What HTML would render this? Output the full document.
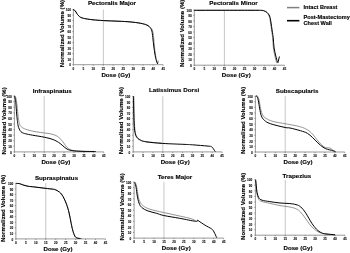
<!DOCTYPE html>
<html><head><meta charset="utf-8"><title>DVH</title>
<style>html,body{margin:0;padding:0;background:#fff}svg{display:block;filter:grayscale(1) blur(0.3px)}</style></head>
<body>
<svg width="350" height="253" viewBox="0 0 350 253" font-family="'Liberation Sans', sans-serif" font-weight="bold" stroke="#000" stroke-width="0.14" stroke-linejoin="round">
<rect width="350" height="253" fill="#fff" stroke="none"/>
<line x1="103.33" y1="9.60" x2="103.33" y2="64.70" stroke="#808080" stroke-width="0.45"/>
<path d="M73.40,9.60 V64.70 H163.18" fill="none" stroke="#444" stroke-width="0.55"/>
<path d="M73.40,64.70 v1.1 M83.38,64.70 v1.1 M93.35,64.70 v1.1 M103.33,64.70 v1.1 M113.30,64.70 v1.1 M123.28,64.70 v1.1 M133.25,64.70 v1.1 M143.23,64.70 v1.1 M153.20,64.70 v1.1 M163.18,64.70 v1.1 M73.40,64.70 h-1.1 M73.40,59.19 h-1.1 M73.40,53.68 h-1.1 M73.40,48.17 h-1.1 M73.40,42.66 h-1.1 M73.40,37.15 h-1.1 M73.40,31.64 h-1.1 M73.40,26.13 h-1.1 M73.40,20.62 h-1.1 M73.40,15.11 h-1.1 M73.40,9.60 h-1.1" fill="none" stroke="#444" stroke-width="0.45"/>
<g font-size="3.15" fill="#111" stroke-width="0.08">
<text x="73.40" y="69.85" text-anchor="middle">0</text>
<text x="83.38" y="69.85" text-anchor="middle">5</text>
<text x="93.35" y="69.85" text-anchor="middle">10</text>
<text x="103.33" y="69.85" text-anchor="middle">15</text>
<text x="113.30" y="69.85" text-anchor="middle">20</text>
<text x="123.28" y="69.85" text-anchor="middle">25</text>
<text x="133.25" y="69.85" text-anchor="middle">30</text>
<text x="143.23" y="69.85" text-anchor="middle">35</text>
<text x="153.20" y="69.85" text-anchor="middle">40</text>
<text x="163.18" y="69.85" text-anchor="middle">45</text>
<text x="70.95" y="66.40" text-anchor="end">0</text>
<text x="70.95" y="60.89" text-anchor="end">10</text>
<text x="70.95" y="55.38" text-anchor="end">20</text>
<text x="70.95" y="49.87" text-anchor="end">30</text>
<text x="70.95" y="44.36" text-anchor="end">40</text>
<text x="70.95" y="38.85" text-anchor="end">50</text>
<text x="70.95" y="33.34" text-anchor="end">60</text>
<text x="70.95" y="27.83" text-anchor="end">70</text>
<text x="70.95" y="22.32" text-anchor="end">80</text>
<text x="70.95" y="16.81" text-anchor="end">90</text>
<text x="70.95" y="11.30" text-anchor="end">100</text>
</g>
<text x="112.00" y="5.20" font-size="6.22" text-anchor="middle" fill="#000">Pectoralis Major</text>
<text x="115.90" y="77.10" font-size="6.15" text-anchor="middle" fill="#000">Dose (Gy)</text>
<text transform="translate(64.20,33.55) rotate(-90)" font-size="6.1" text-anchor="middle" fill="#000">Normalized Volume (%)</text>
<path d="M73.10,9.50 C73.35,9.63 73.98,9.75 74.50,10.20 C75.02,10.65 75.46,11.23 76.00,12.00 C76.54,12.77 76.85,13.65 77.50,14.50 C78.15,15.35 78.79,16.09 79.60,16.70 C80.41,17.31 80.85,17.52 82.00,17.90 C83.15,18.28 84.02,18.46 86.00,18.80 C87.98,19.14 89.85,19.48 93.00,19.80 C96.15,20.12 99.00,20.35 103.50,20.60 C108.00,20.85 113.23,20.97 118.00,21.20 C122.77,21.43 125.97,21.56 130.00,21.90 C134.03,22.24 137.29,22.54 140.40,23.10 C143.51,23.66 145.46,24.19 147.30,25.00 C149.14,25.81 149.63,26.50 150.60,27.60 C151.57,28.70 152.14,29.30 152.70,31.10 C153.26,32.90 153.36,34.56 153.70,37.60 C154.04,40.64 154.20,44.47 154.60,48.00 C155.00,51.53 155.50,54.86 155.90,57.20 C156.30,59.54 156.48,59.85 156.80,61.00 C157.12,62.15 157.41,63.69 157.70,63.60 C157.99,63.51 158.27,61.06 158.40,60.50" fill="none" stroke="#707070" stroke-width="0.75" stroke-linejoin="round"/>
<path d="M73.10,9.50 C73.35,9.63 73.98,9.75 74.50,10.20 C75.02,10.65 75.46,11.23 76.00,12.00 C76.54,12.77 76.85,13.65 77.50,14.50 C78.15,15.35 78.79,16.09 79.60,16.70 C80.41,17.31 80.85,17.52 82.00,17.90 C83.15,18.28 84.02,18.46 86.00,18.80 C87.98,19.14 89.85,19.48 93.00,19.80 C96.15,20.12 99.00,20.35 103.50,20.60 C108.00,20.85 113.23,20.97 118.00,21.20 C122.77,21.43 125.97,21.52 130.00,21.90 C134.03,22.28 137.34,22.71 140.40,23.30 C143.46,23.89 145.24,24.39 147.00,25.20 C148.76,26.01 149.32,26.74 150.20,27.80 C151.08,28.86 151.43,29.34 151.90,31.10 C152.37,32.86 152.42,34.56 152.80,37.60 C153.18,40.64 153.51,44.47 154.00,48.00 C154.49,51.53 155.05,54.86 155.50,57.20 C155.95,59.54 156.12,59.78 156.50,61.00 C156.88,62.22 157.40,63.46 157.60,64.00" fill="none" stroke="#000" stroke-width="1.0" stroke-linejoin="round"/>
<line x1="224.38" y1="9.90" x2="224.38" y2="65.20" stroke="#808080" stroke-width="0.45"/>
<path d="M194.30,9.90 V65.20 H284.52" fill="none" stroke="#444" stroke-width="0.55"/>
<path d="M194.30,65.20 v1.1 M204.33,65.20 v1.1 M214.35,65.20 v1.1 M224.38,65.20 v1.1 M234.40,65.20 v1.1 M244.43,65.20 v1.1 M254.45,65.20 v1.1 M264.48,65.20 v1.1 M274.50,65.20 v1.1 M284.52,65.20 v1.1 M194.30,65.20 h-1.1 M194.30,59.67 h-1.1 M194.30,54.14 h-1.1 M194.30,48.61 h-1.1 M194.30,43.08 h-1.1 M194.30,37.55 h-1.1 M194.30,32.02 h-1.1 M194.30,26.49 h-1.1 M194.30,20.96 h-1.1 M194.30,15.43 h-1.1 M194.30,9.90 h-1.1" fill="none" stroke="#444" stroke-width="0.45"/>
<g font-size="3.15" fill="#111" stroke-width="0.08">
<text x="194.30" y="70.35" text-anchor="middle">0</text>
<text x="204.33" y="70.35" text-anchor="middle">5</text>
<text x="214.35" y="70.35" text-anchor="middle">10</text>
<text x="224.38" y="70.35" text-anchor="middle">15</text>
<text x="234.40" y="70.35" text-anchor="middle">20</text>
<text x="244.43" y="70.35" text-anchor="middle">25</text>
<text x="254.45" y="70.35" text-anchor="middle">30</text>
<text x="264.48" y="70.35" text-anchor="middle">35</text>
<text x="274.50" y="70.35" text-anchor="middle">40</text>
<text x="284.52" y="70.35" text-anchor="middle">45</text>
<text x="191.75" y="66.90" text-anchor="end">0</text>
<text x="191.75" y="61.37" text-anchor="end">10</text>
<text x="191.75" y="55.84" text-anchor="end">20</text>
<text x="191.75" y="50.31" text-anchor="end">30</text>
<text x="191.75" y="44.78" text-anchor="end">40</text>
<text x="191.75" y="39.25" text-anchor="end">50</text>
<text x="191.75" y="33.72" text-anchor="end">60</text>
<text x="191.75" y="28.19" text-anchor="end">70</text>
<text x="191.75" y="22.66" text-anchor="end">80</text>
<text x="191.75" y="17.13" text-anchor="end">90</text>
<text x="191.75" y="11.60" text-anchor="end">100</text>
</g>
<text x="233.50" y="5.20" font-size="6.22" text-anchor="middle" fill="#000">Pectoralis Minor</text>
<text x="236.30" y="76.80" font-size="6.15" text-anchor="middle" fill="#000">Dose (Gy)</text>
<text transform="translate(184.30,33.25) rotate(-90)" font-size="6.1" text-anchor="middle" fill="#000">Normalized Volume (%)</text>
<path d="M194.20,10.30 C204.24,10.30 237.94,10.28 250.00,10.30 C262.06,10.32 258.68,10.27 261.20,10.40 C263.72,10.53 263.05,10.64 264.00,11.00 C264.95,11.36 265.58,11.50 266.50,12.40 C267.42,13.30 268.40,14.27 269.10,16.00 C269.80,17.73 269.93,19.30 270.40,22.00 C270.87,24.70 271.30,28.19 271.70,31.00 C272.10,33.81 272.29,34.54 272.60,37.60 C272.91,40.66 272.93,44.47 273.40,48.00 C273.87,51.53 274.61,54.46 275.20,57.20 C275.79,59.94 276.43,62.12 276.70,63.20" fill="none" stroke="#707070" stroke-width="0.75" stroke-linejoin="round"/>
<path d="M194.20,10.30 C204.24,10.30 237.85,10.28 250.00,10.30 C262.15,10.32 259.09,10.27 261.70,10.40 C264.31,10.53 263.55,10.64 264.50,11.00 C265.45,11.36 266.08,11.50 267.00,12.40 C267.92,13.30 268.90,14.27 269.60,16.00 C270.30,17.73 270.43,19.30 270.90,22.00 C271.37,24.70 271.79,28.19 272.20,31.00 C272.61,33.81 272.86,34.54 273.20,37.60 C273.54,40.66 273.58,44.47 274.10,48.00 C274.62,51.53 275.43,54.57 276.10,57.20 C276.77,59.83 277.35,62.10 277.80,62.60 C278.25,63.10 278.31,61.10 278.60,60.00 C278.89,58.90 279.26,57.13 279.40,56.50" fill="none" stroke="#000" stroke-width="1.0" stroke-linejoin="round"/>
<line x1="44.18" y1="96.00" x2="44.18" y2="151.90" stroke="#808080" stroke-width="0.45"/>
<path d="M14.40,96.00 V151.90 H103.73" fill="none" stroke="#444" stroke-width="0.55"/>
<path d="M14.40,151.90 v1.1 M24.33,151.90 v1.1 M34.25,151.90 v1.1 M44.18,151.90 v1.1 M54.10,151.90 v1.1 M64.03,151.90 v1.1 M73.95,151.90 v1.1 M83.88,151.90 v1.1 M93.80,151.90 v1.1 M103.73,151.90 v1.1 M14.40,151.90 h-1.1 M14.40,146.31 h-1.1 M14.40,140.72 h-1.1 M14.40,135.13 h-1.1 M14.40,129.54 h-1.1 M14.40,123.95 h-1.1 M14.40,118.36 h-1.1 M14.40,112.77 h-1.1 M14.40,107.18 h-1.1 M14.40,101.59 h-1.1 M14.40,96.00 h-1.1" fill="none" stroke="#444" stroke-width="0.45"/>
<g font-size="3.15" fill="#111" stroke-width="0.08">
<text x="14.40" y="157.05" text-anchor="middle">0</text>
<text x="24.33" y="157.05" text-anchor="middle">5</text>
<text x="34.25" y="157.05" text-anchor="middle">10</text>
<text x="44.18" y="157.05" text-anchor="middle">15</text>
<text x="54.10" y="157.05" text-anchor="middle">20</text>
<text x="64.03" y="157.05" text-anchor="middle">25</text>
<text x="73.95" y="157.05" text-anchor="middle">30</text>
<text x="83.88" y="157.05" text-anchor="middle">35</text>
<text x="93.80" y="157.05" text-anchor="middle">40</text>
<text x="103.73" y="157.05" text-anchor="middle">45</text>
<text x="11.75" y="153.60" text-anchor="end">0</text>
<text x="11.75" y="148.01" text-anchor="end">10</text>
<text x="11.75" y="142.42" text-anchor="end">20</text>
<text x="11.75" y="136.83" text-anchor="end">30</text>
<text x="11.75" y="131.24" text-anchor="end">40</text>
<text x="11.75" y="125.65" text-anchor="end">50</text>
<text x="11.75" y="120.06" text-anchor="end">60</text>
<text x="11.75" y="114.47" text-anchor="end">70</text>
<text x="11.75" y="108.88" text-anchor="end">80</text>
<text x="11.75" y="103.29" text-anchor="end">90</text>
<text x="11.75" y="97.70" text-anchor="end">100</text>
</g>
<text x="52.20" y="92.80" font-size="6.22" text-anchor="middle" fill="#000">Infraspinatus</text>
<text x="55.90" y="164.00" font-size="6.15" text-anchor="middle" fill="#000">Dose (Gy)</text>
<text transform="translate(6.10,120.85) rotate(-90)" font-size="6.1" text-anchor="middle" fill="#000">Normalized Volume (%)</text>
<path d="M14.20,96.00 C14.40,96.05 14.95,95.76 15.29,96.30 C15.63,96.84 15.76,97.25 16.08,99.00 C16.40,100.75 16.68,102.67 17.07,106.00 C17.46,109.33 17.90,114.62 18.25,117.50 C18.61,120.38 18.76,120.69 19.04,122.00 C19.33,123.31 19.26,123.81 19.83,124.80 C20.40,125.79 20.84,126.60 22.20,127.50 C23.56,128.40 24.92,129.03 27.40,129.80 C29.88,130.57 32.87,131.22 36.00,131.80 C39.13,132.38 41.76,132.53 44.80,133.00 C47.84,133.47 50.42,133.64 52.90,134.40 C55.38,135.16 56.80,135.87 58.60,137.20 C60.40,138.53 61.62,140.25 62.90,141.80 C64.18,143.35 64.58,144.49 65.70,145.80 C66.82,147.11 67.55,148.22 69.10,149.10 C70.65,149.98 71.56,150.29 74.30,150.70 C77.04,151.11 82.50,151.27 84.30,151.40" fill="none" stroke="#707070" stroke-width="0.75" stroke-linejoin="round"/>
<path d="M14.20,96.00 C14.29,96.09 14.50,95.96 14.70,96.50 C14.89,97.04 15.09,97.94 15.29,99.00 C15.49,100.06 15.53,99.68 15.78,102.40 C16.03,105.12 16.39,110.84 16.67,114.10 C16.96,117.36 17.15,118.63 17.36,120.50 C17.58,122.37 17.63,123.24 17.86,124.50 C18.09,125.76 18.26,126.42 18.65,127.50 C19.04,128.58 19.43,129.60 20.03,130.50 C20.63,131.40 20.98,131.91 22.00,132.50 C23.03,133.09 23.79,133.31 25.70,133.80 C27.61,134.29 29.25,134.59 32.60,135.20 C35.95,135.81 40.65,136.43 44.30,137.20 C47.95,137.97 50.33,138.56 52.90,139.50 C55.47,140.44 56.80,141.27 58.60,142.40 C60.40,143.53 61.37,144.59 62.90,145.80 C64.43,147.01 65.30,148.22 67.10,149.10 C68.90,149.98 70.33,150.30 72.90,150.70 C75.47,151.10 77.30,151.16 81.40,151.30 C85.50,151.44 93.13,151.46 95.70,151.50" fill="none" stroke="#000" stroke-width="1.0" stroke-linejoin="round"/>
<line x1="162.82" y1="96.30" x2="162.82" y2="151.90" stroke="#808080" stroke-width="0.45"/>
<path d="M133.20,96.30 V151.90 H222.07" fill="none" stroke="#444" stroke-width="0.55"/>
<path d="M133.20,151.90 v1.1 M143.07,151.90 v1.1 M152.95,151.90 v1.1 M162.82,151.90 v1.1 M172.70,151.90 v1.1 M182.57,151.90 v1.1 M192.45,151.90 v1.1 M202.32,151.90 v1.1 M212.20,151.90 v1.1 M222.07,151.90 v1.1 M133.20,151.90 h-1.1 M133.20,146.34 h-1.1 M133.20,140.78 h-1.1 M133.20,135.22 h-1.1 M133.20,129.66 h-1.1 M133.20,124.10 h-1.1 M133.20,118.54 h-1.1 M133.20,112.98 h-1.1 M133.20,107.42 h-1.1 M133.20,101.86 h-1.1 M133.20,96.30 h-1.1" fill="none" stroke="#444" stroke-width="0.45"/>
<g font-size="3.15" fill="#111" stroke-width="0.08">
<text x="133.20" y="157.05" text-anchor="middle">0</text>
<text x="143.07" y="157.05" text-anchor="middle">5</text>
<text x="152.95" y="157.05" text-anchor="middle">10</text>
<text x="162.82" y="157.05" text-anchor="middle">15</text>
<text x="172.70" y="157.05" text-anchor="middle">20</text>
<text x="182.57" y="157.05" text-anchor="middle">25</text>
<text x="192.45" y="157.05" text-anchor="middle">30</text>
<text x="202.32" y="157.05" text-anchor="middle">35</text>
<text x="212.20" y="157.05" text-anchor="middle">40</text>
<text x="222.07" y="157.05" text-anchor="middle">45</text>
<text x="130.25" y="153.60" text-anchor="end">0</text>
<text x="130.25" y="148.04" text-anchor="end">10</text>
<text x="130.25" y="142.48" text-anchor="end">20</text>
<text x="130.25" y="136.92" text-anchor="end">30</text>
<text x="130.25" y="131.36" text-anchor="end">40</text>
<text x="130.25" y="125.80" text-anchor="end">50</text>
<text x="130.25" y="120.24" text-anchor="end">60</text>
<text x="130.25" y="114.68" text-anchor="end">70</text>
<text x="130.25" y="109.12" text-anchor="end">80</text>
<text x="130.25" y="103.56" text-anchor="end">90</text>
<text x="130.25" y="98.00" text-anchor="end">100</text>
</g>
<text x="174.10" y="92.40" font-size="6.22" text-anchor="middle" fill="#000">Latissimus Dorsi</text>
<text x="175.20" y="164.00" font-size="6.15" text-anchor="middle" fill="#000">Dose (Gy)</text>
<text transform="translate(122.70,120.70) rotate(-90)" font-size="6.1" text-anchor="middle" fill="#000">Normalized Volume (%)</text>
<path d="M133.89,96.30 C133.92,98.77 133.97,105.03 134.07,110.00 C134.18,114.97 134.23,119.90 134.45,123.90 C134.67,127.90 134.86,129.90 135.29,132.20 C135.73,134.50 136.06,135.37 136.89,136.70 C137.71,138.03 138.27,138.72 139.89,139.60 C141.51,140.48 141.85,140.93 145.90,141.60 C149.95,142.27 159.43,142.99 162.40,143.30" fill="none" stroke="#707070" stroke-width="0.75" stroke-linejoin="round"/>
<path d="M133.51,96.30 C133.55,98.77 133.58,105.03 133.70,110.00 C133.82,114.97 133.93,119.83 134.17,123.90 C134.41,127.97 134.57,130.24 135.01,132.60 C135.45,134.96 135.73,135.69 136.61,137.00 C137.48,138.31 138.21,139.04 139.89,139.90 C141.56,140.76 141.85,141.17 145.90,141.80 C149.95,142.43 155.36,142.93 162.40,143.40 C169.44,143.87 179.60,144.15 185.00,144.40 C190.40,144.65 188.26,144.49 192.40,144.80 C196.54,145.11 204.56,145.76 208.00,146.10 C211.44,146.44 210.55,146.23 211.50,146.70 C212.45,147.17 212.62,147.80 213.30,148.70 C213.98,149.60 214.94,151.16 215.30,151.70" fill="none" stroke="#000" stroke-width="1.0" stroke-linejoin="round"/>
<line x1="285.20" y1="96.20" x2="285.20" y2="152.00" stroke="#808080" stroke-width="0.45"/>
<path d="M255.40,96.20 V152.00 H344.81" fill="none" stroke="#444" stroke-width="0.55"/>
<path d="M255.40,152.00 v1.1 M265.33,152.00 v1.1 M275.27,152.00 v1.1 M285.20,152.00 v1.1 M295.14,152.00 v1.1 M305.07,152.00 v1.1 M315.01,152.00 v1.1 M324.94,152.00 v1.1 M334.88,152.00 v1.1 M344.81,152.00 v1.1 M255.40,152.00 h-1.1 M255.40,146.42 h-1.1 M255.40,140.84 h-1.1 M255.40,135.26 h-1.1 M255.40,129.68 h-1.1 M255.40,124.10 h-1.1 M255.40,118.52 h-1.1 M255.40,112.94 h-1.1 M255.40,107.36 h-1.1 M255.40,101.78 h-1.1 M255.40,96.20 h-1.1" fill="none" stroke="#444" stroke-width="0.45"/>
<g font-size="3.15" fill="#111" stroke-width="0.08">
<text x="255.40" y="157.15" text-anchor="middle">0</text>
<text x="265.33" y="157.15" text-anchor="middle">5</text>
<text x="275.27" y="157.15" text-anchor="middle">10</text>
<text x="285.20" y="157.15" text-anchor="middle">15</text>
<text x="295.14" y="157.15" text-anchor="middle">20</text>
<text x="305.07" y="157.15" text-anchor="middle">25</text>
<text x="315.01" y="157.15" text-anchor="middle">30</text>
<text x="324.94" y="157.15" text-anchor="middle">35</text>
<text x="334.88" y="157.15" text-anchor="middle">40</text>
<text x="344.81" y="157.15" text-anchor="middle">45</text>
<text x="252.65" y="153.70" text-anchor="end">0</text>
<text x="252.65" y="148.12" text-anchor="end">10</text>
<text x="252.65" y="142.54" text-anchor="end">20</text>
<text x="252.65" y="136.96" text-anchor="end">30</text>
<text x="252.65" y="131.38" text-anchor="end">40</text>
<text x="252.65" y="125.80" text-anchor="end">50</text>
<text x="252.65" y="120.22" text-anchor="end">60</text>
<text x="252.65" y="114.64" text-anchor="end">70</text>
<text x="252.65" y="109.06" text-anchor="end">80</text>
<text x="252.65" y="103.48" text-anchor="end">90</text>
<text x="252.65" y="97.90" text-anchor="end">100</text>
</g>
<text x="297.10" y="92.50" font-size="6.22" text-anchor="middle" fill="#000">Subscapularis</text>
<text x="298.10" y="163.90" font-size="6.15" text-anchor="middle" fill="#000">Dose (Gy)</text>
<text transform="translate(244.80,120.40) rotate(-90)" font-size="6.1" text-anchor="middle" fill="#000">Normalized Volume (%)</text>
<path d="M255.71,96.20 C256.08,96.24 257.17,95.68 257.77,96.40 C258.38,97.12 258.56,97.95 259.09,100.20 C259.61,102.45 260.04,106.24 260.68,108.90 C261.32,111.56 261.69,113.29 262.65,115.00 C263.61,116.71 264.14,117.25 266.00,118.40 C267.86,119.55 269.54,120.45 273.00,121.40 C276.46,122.35 282.14,123.12 285.20,123.70 C288.26,124.28 287.26,124.04 290.00,124.60 C292.74,125.16 297.27,125.86 300.40,126.80 C303.53,127.74 305.20,128.49 307.40,129.80 C309.60,131.11 310.73,132.14 312.60,134.10 C314.47,136.06 315.93,138.56 317.80,140.70 C319.67,142.84 321.43,144.74 323.00,146.00 C324.57,147.26 325.24,147.34 326.50,147.70 C327.76,148.06 328.74,147.46 330.00,148.00 C331.26,148.54 332.42,150.03 333.50,150.70 C334.58,151.37 335.55,151.52 336.00,151.70" fill="none" stroke="#707070" stroke-width="0.75" stroke-linejoin="round"/>
<path d="M255.71,96.20 C255.93,96.24 256.48,95.68 256.93,96.40 C257.39,97.12 257.74,97.95 258.24,100.20 C258.75,102.45 259.19,106.09 259.74,108.90 C260.30,111.71 260.52,113.77 261.34,115.80 C262.16,117.83 262.67,118.78 264.30,120.20 C265.93,121.62 266.64,122.39 270.40,123.70 C274.16,125.01 281.67,126.73 285.20,127.50 C288.73,128.27 287.26,127.42 290.00,128.00 C292.74,128.58 297.27,129.75 300.40,130.70 C303.53,131.65 305.20,132.06 307.40,133.30 C309.60,134.54 310.73,135.89 312.60,137.60 C314.47,139.31 315.93,141.07 317.80,142.80 C319.67,144.53 321.27,146.03 323.00,147.20 C324.73,148.37 325.83,148.74 327.40,149.30 C328.97,149.86 330.30,149.90 331.70,150.30 C333.10,150.70 334.57,151.28 335.20,151.50" fill="none" stroke="#000" stroke-width="1.0" stroke-linejoin="round"/>
<line x1="45.75" y1="183.30" x2="45.75" y2="238.90" stroke="#808080" stroke-width="0.45"/>
<path d="M15.90,183.30 V238.90 H105.45" fill="none" stroke="#444" stroke-width="0.55"/>
<path d="M15.90,238.90 v1.1 M25.85,238.90 v1.1 M35.80,238.90 v1.1 M45.75,238.90 v1.1 M55.70,238.90 v1.1 M65.65,238.90 v1.1 M75.60,238.90 v1.1 M85.55,238.90 v1.1 M95.50,238.90 v1.1 M105.45,238.90 v1.1 M15.90,238.90 h-1.1 M15.90,233.34 h-1.1 M15.90,227.78 h-1.1 M15.90,222.22 h-1.1 M15.90,216.66 h-1.1 M15.90,211.10 h-1.1 M15.90,205.54 h-1.1 M15.90,199.98 h-1.1 M15.90,194.42 h-1.1 M15.90,188.86 h-1.1 M15.90,183.30 h-1.1" fill="none" stroke="#444" stroke-width="0.45"/>
<g font-size="3.15" fill="#111" stroke-width="0.08">
<text x="15.90" y="244.05" text-anchor="middle">0</text>
<text x="25.85" y="244.05" text-anchor="middle">5</text>
<text x="35.80" y="244.05" text-anchor="middle">10</text>
<text x="45.75" y="244.05" text-anchor="middle">15</text>
<text x="55.70" y="244.05" text-anchor="middle">20</text>
<text x="65.65" y="244.05" text-anchor="middle">25</text>
<text x="75.60" y="244.05" text-anchor="middle">30</text>
<text x="85.55" y="244.05" text-anchor="middle">35</text>
<text x="95.50" y="244.05" text-anchor="middle">40</text>
<text x="105.45" y="244.05" text-anchor="middle">45</text>
<text x="13.25" y="240.60" text-anchor="end">0</text>
<text x="13.25" y="235.04" text-anchor="end">10</text>
<text x="13.25" y="229.48" text-anchor="end">20</text>
<text x="13.25" y="223.92" text-anchor="end">30</text>
<text x="13.25" y="218.36" text-anchor="end">40</text>
<text x="13.25" y="212.80" text-anchor="end">50</text>
<text x="13.25" y="207.24" text-anchor="end">60</text>
<text x="13.25" y="201.68" text-anchor="end">70</text>
<text x="13.25" y="196.12" text-anchor="end">80</text>
<text x="13.25" y="190.56" text-anchor="end">90</text>
<text x="13.25" y="185.00" text-anchor="end">100</text>
</g>
<text x="56.50" y="180.20" font-size="6.22" text-anchor="middle" fill="#000">Supraspinatus</text>
<text x="58.00" y="251.30" font-size="6.15" text-anchor="middle" fill="#000">Dose (Gy)</text>
<text transform="translate(5.40,208.40) rotate(-90)" font-size="6.1" text-anchor="middle" fill="#000">Normalized Volume (%)</text>
<path d="M16.21,183.40 C16.79,183.44 18.24,183.35 19.40,183.60 C20.56,183.85 21.17,184.33 22.68,184.80 C24.19,185.27 25.62,185.80 27.80,186.20 C29.98,186.60 31.67,186.62 34.80,187.00 C37.93,187.38 42.07,187.92 45.20,188.30 C48.33,188.68 50.40,188.85 52.20,189.10 C54.00,189.35 53.87,189.14 55.20,189.70 C56.53,190.26 58.20,190.98 59.60,192.20 C61.00,193.42 61.79,194.50 63.00,196.50 C64.21,198.50 65.24,200.51 66.30,203.30 C67.36,206.09 68.05,208.54 68.90,212.00 C69.75,215.46 70.28,219.17 71.00,222.50 C71.72,225.83 72.14,228.02 72.90,230.50 C73.66,232.98 74.28,234.91 75.20,236.30 C76.12,237.69 76.78,237.80 78.00,238.20 C79.22,238.60 81.28,238.45 82.00,238.50" fill="none" stroke="#707070" stroke-width="0.75" stroke-linejoin="round"/>
<path d="M16.21,183.40 C16.79,183.44 18.24,183.35 19.40,183.60 C20.56,183.85 21.17,184.33 22.68,184.80 C24.19,185.27 25.62,185.80 27.80,186.20 C29.98,186.60 31.67,186.62 34.80,187.00 C37.93,187.38 42.07,187.92 45.20,188.30 C48.33,188.68 50.40,188.85 52.20,189.10 C54.00,189.35 53.87,189.14 55.20,189.70 C56.53,190.26 58.20,190.98 59.60,192.20 C61.00,193.42 61.76,194.32 63.00,196.50 C64.24,198.68 65.40,201.33 66.50,204.30 C67.60,207.27 68.25,209.54 69.10,213.00 C69.95,216.46 70.57,220.46 71.20,223.50 C71.83,226.54 71.97,227.65 72.60,229.90 C73.23,232.15 73.91,234.54 74.70,236.00 C75.49,237.46 75.97,237.55 77.00,238.00 C78.03,238.45 79.79,238.41 80.40,238.50" fill="none" stroke="#000" stroke-width="1.0" stroke-linejoin="round"/>
<line x1="163.95" y1="182.10" x2="163.95" y2="238.10" stroke="#808080" stroke-width="0.45"/>
<path d="M134.10,182.10 V238.10 H223.65" fill="none" stroke="#444" stroke-width="0.55"/>
<path d="M134.10,238.10 v1.1 M144.05,238.10 v1.1 M154.00,238.10 v1.1 M163.95,238.10 v1.1 M173.90,238.10 v1.1 M183.85,238.10 v1.1 M193.80,238.10 v1.1 M203.75,238.10 v1.1 M213.70,238.10 v1.1 M223.65,238.10 v1.1 M134.10,238.10 h-1.1 M134.10,232.50 h-1.1 M134.10,226.90 h-1.1 M134.10,221.30 h-1.1 M134.10,215.70 h-1.1 M134.10,210.10 h-1.1 M134.10,204.50 h-1.1 M134.10,198.90 h-1.1 M134.10,193.30 h-1.1 M134.10,187.70 h-1.1 M134.10,182.10 h-1.1" fill="none" stroke="#444" stroke-width="0.45"/>
<g font-size="3.15" fill="#111" stroke-width="0.08">
<text x="134.10" y="243.25" text-anchor="middle">0</text>
<text x="144.05" y="243.25" text-anchor="middle">5</text>
<text x="154.00" y="243.25" text-anchor="middle">10</text>
<text x="163.95" y="243.25" text-anchor="middle">15</text>
<text x="173.90" y="243.25" text-anchor="middle">20</text>
<text x="183.85" y="243.25" text-anchor="middle">25</text>
<text x="193.80" y="243.25" text-anchor="middle">30</text>
<text x="203.75" y="243.25" text-anchor="middle">35</text>
<text x="213.70" y="243.25" text-anchor="middle">40</text>
<text x="223.65" y="243.25" text-anchor="middle">45</text>
<text x="131.15" y="239.80" text-anchor="end">0</text>
<text x="131.15" y="234.20" text-anchor="end">10</text>
<text x="131.15" y="228.60" text-anchor="end">20</text>
<text x="131.15" y="223.00" text-anchor="end">30</text>
<text x="131.15" y="217.40" text-anchor="end">40</text>
<text x="131.15" y="211.80" text-anchor="end">50</text>
<text x="131.15" y="206.20" text-anchor="end">60</text>
<text x="131.15" y="200.60" text-anchor="end">70</text>
<text x="131.15" y="195.00" text-anchor="end">80</text>
<text x="131.15" y="189.40" text-anchor="end">90</text>
<text x="131.15" y="183.80" text-anchor="end">100</text>
</g>
<text x="174.90" y="179.10" font-size="6.22" text-anchor="middle" fill="#000">Teres Major</text>
<text x="176.30" y="250.30" font-size="6.15" text-anchor="middle" fill="#000">Dose (Gy)</text>
<text transform="translate(124.00,206.90) rotate(-90)" font-size="6.1" text-anchor="middle" fill="#000">Normalized Volume (%)</text>
<path d="M134.60,182.20 C134.77,182.34 135.13,182.06 135.54,183.00 C135.94,183.94 136.38,185.04 136.85,187.40 C137.32,189.76 137.57,193.44 138.16,196.10 C138.75,198.76 139.17,200.42 140.13,202.20 C141.09,203.98 141.80,204.76 143.50,206.00 C145.20,207.24 146.00,207.93 149.60,209.10 C153.20,210.27 158.08,211.26 163.50,212.50 C168.92,213.74 174.73,214.88 179.70,216.00 C184.67,217.12 188.22,217.84 191.10,218.70 C193.98,219.56 194.87,220.42 195.70,220.80" fill="none" stroke="#707070" stroke-width="0.75" stroke-linejoin="round"/>
<path d="M134.60,182.20 C134.68,182.43 134.80,182.56 135.07,183.50 C135.34,184.44 135.69,185.13 136.10,187.40 C136.50,189.67 136.80,193.29 137.32,196.10 C137.84,198.91 138.21,200.97 139.01,203.00 C139.80,205.03 140.14,205.98 141.72,207.40 C143.31,208.82 145.14,209.84 147.80,210.90 C150.46,211.96 153.64,212.47 156.50,213.30 C159.36,214.13 159.52,214.60 163.70,215.50 C167.88,216.40 173.94,217.26 179.70,218.30 C185.46,219.34 192.53,220.98 195.70,221.30 C198.87,221.62 196.76,220.15 197.30,220.10 C197.84,220.05 197.33,220.10 198.70,221.00 C200.07,221.90 202.56,223.66 204.90,225.10 C207.24,226.54 210.06,227.76 211.70,229.00 C213.34,230.24 213.10,230.43 214.00,232.00 C214.90,233.57 216.21,236.67 216.70,237.70" fill="none" stroke="#000" stroke-width="1.0" stroke-linejoin="round"/>
<line x1="285.25" y1="179.70" x2="285.25" y2="235.20" stroke="#808080" stroke-width="0.45"/>
<path d="M255.40,179.70 V235.20 H344.95" fill="none" stroke="#444" stroke-width="0.55"/>
<path d="M255.40,235.20 v1.1 M265.35,235.20 v1.1 M275.30,235.20 v1.1 M285.25,235.20 v1.1 M295.20,235.20 v1.1 M305.15,235.20 v1.1 M315.10,235.20 v1.1 M325.05,235.20 v1.1 M335.00,235.20 v1.1 M344.95,235.20 v1.1 M255.40,235.20 h-1.1 M255.40,229.65 h-1.1 M255.40,224.10 h-1.1 M255.40,218.55 h-1.1 M255.40,213.00 h-1.1 M255.40,207.45 h-1.1 M255.40,201.90 h-1.1 M255.40,196.35 h-1.1 M255.40,190.80 h-1.1 M255.40,185.25 h-1.1 M255.40,179.70 h-1.1" fill="none" stroke="#444" stroke-width="0.45"/>
<g font-size="3.15" fill="#111" stroke-width="0.08">
<text x="255.40" y="240.35" text-anchor="middle">0</text>
<text x="265.35" y="240.35" text-anchor="middle">5</text>
<text x="275.30" y="240.35" text-anchor="middle">10</text>
<text x="285.25" y="240.35" text-anchor="middle">15</text>
<text x="295.20" y="240.35" text-anchor="middle">20</text>
<text x="305.15" y="240.35" text-anchor="middle">25</text>
<text x="315.10" y="240.35" text-anchor="middle">30</text>
<text x="325.05" y="240.35" text-anchor="middle">35</text>
<text x="335.00" y="240.35" text-anchor="middle">40</text>
<text x="344.95" y="240.35" text-anchor="middle">45</text>
<text x="252.25" y="236.90" text-anchor="end">0</text>
<text x="252.25" y="231.35" text-anchor="end">10</text>
<text x="252.25" y="225.80" text-anchor="end">20</text>
<text x="252.25" y="220.25" text-anchor="end">30</text>
<text x="252.25" y="214.70" text-anchor="end">40</text>
<text x="252.25" y="209.15" text-anchor="end">50</text>
<text x="252.25" y="203.60" text-anchor="end">60</text>
<text x="252.25" y="198.05" text-anchor="end">70</text>
<text x="252.25" y="192.50" text-anchor="end">80</text>
<text x="252.25" y="186.95" text-anchor="end">90</text>
<text x="252.25" y="181.40" text-anchor="end">100</text>
</g>
<text x="296.90" y="178.30" font-size="6.22" text-anchor="middle" fill="#000">Trapezius</text>
<text x="298.00" y="249.60" font-size="6.15" text-anchor="middle" fill="#000">Dose (Gy)</text>
<text transform="translate(245.00,206.25) rotate(-90)" font-size="6.1" text-anchor="middle" fill="#000">Normalized Volume (%)</text>
<path d="M255.61,179.70 C255.71,181.01 255.92,184.41 256.18,187.00 C256.44,189.59 256.57,191.89 257.03,194.10 C257.50,196.31 257.84,197.95 258.75,199.30 C259.65,200.65 260.08,200.88 262.07,201.60 C264.06,202.32 266.57,202.58 269.80,203.30 C273.03,204.02 276.51,204.95 280.00,205.60 C283.49,206.25 286.32,206.32 289.20,206.90 C292.08,207.48 293.93,207.85 296.00,208.80 C298.07,209.75 299.04,210.54 300.70,212.20 C302.36,213.86 303.76,216.06 305.20,218.00 C306.64,219.94 307.46,221.36 308.70,223.00 C309.94,224.64 310.66,225.66 312.10,227.10 C313.54,228.54 315.04,229.92 316.70,231.00 C318.36,232.08 319.64,232.56 321.30,233.10 C322.96,233.64 323.43,233.69 325.90,234.00 C328.37,234.31 333.36,234.66 335.00,234.80" fill="none" stroke="#707070" stroke-width="0.75" stroke-linejoin="round"/>
<path d="M255.61,179.70 C255.73,180.73 256.02,183.13 256.27,185.40 C256.53,187.67 256.59,190.10 257.03,192.30 C257.48,194.50 257.84,196.18 258.75,197.60 C259.65,199.02 260.08,199.48 262.07,200.20 C264.06,200.92 266.57,201.10 269.80,201.60 C273.03,202.10 276.51,202.66 280.00,203.00 C283.49,203.34 286.32,203.21 289.20,203.50 C292.08,203.79 293.93,203.99 296.00,204.60 C298.07,205.21 299.04,205.53 300.70,206.90 C302.36,208.27 303.76,210.20 305.20,212.20 C306.64,214.20 307.46,215.93 308.70,218.00 C309.94,220.07 310.66,221.65 312.10,223.70 C313.54,225.75 315.04,227.78 316.70,229.40 C318.36,231.02 319.64,231.89 321.30,232.70 C322.96,233.51 323.42,233.52 325.90,233.90 C328.38,234.28 333.44,234.64 335.10,234.80" fill="none" stroke="#000" stroke-width="1.0" stroke-linejoin="round"/>
<line x1="287" y1="7.6" x2="299.4" y2="7.6" stroke="#808080" stroke-width="1.5"/>
<line x1="287" y1="20.7" x2="299.4" y2="20.7" stroke="#000" stroke-width="1.6"/>
<g font-size="5.6" fill="#000"><text x="303.5" y="8.7">Intact Breast</text><text x="303.5" y="18.7">Post-Mastectomy</text><text x="303.5" y="25.4">Chest Wall</text></g>
</svg>
</body></html>
